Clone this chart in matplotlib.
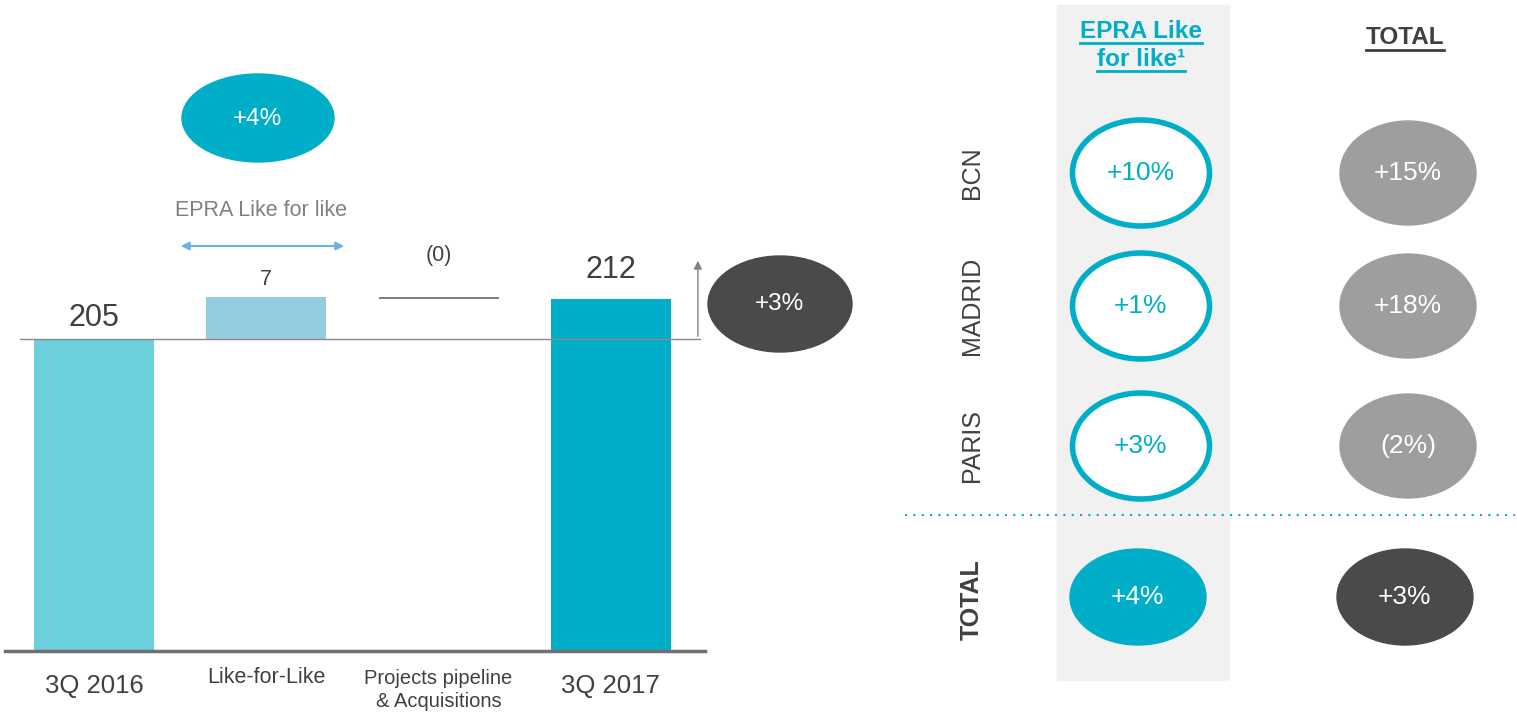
import matplotlib.pyplot as plt
from matplotlib.patches import Ellipse, Rectangle

plt.rcParams['font.family'] = ['Liberation Sans', 'DejaVu Sans']

# waterfall data
categories = ["3Q 2016", "Like-for-Like", "Projects pipeline\n& Acquisitions", "3Q 2017"]
start_value = 205.0
lfl_change = 7.4
projects_change = -0.4
end_value = 212.0
value_labels = ["205", "7", "(0)", "212"]
lfl_growth = "+4%"
total_growth = "+3%"

# table data
cities = ["BCN", "MADRID", "PARIS"]
epra_lfl = ["+10%", "+1%", "+3%"]
city_total = ["+15%", "+18%", "(2%)"]
total_row = ["+4%", "+3%"]

TEAL = '#00aec7'
LIGHT_TEAL = '#6bcfdc'
LFL_BLUE = '#94cde0'
DARK = '#4a4a4a'
GREY = '#9e9e9e'
TXT = '#404040'

W, H = 1517, 716
fig = plt.figure(figsize=(W / 100, H / 100), dpi=100)

# ---- waterfall (left) ----
px_per_unit = 40 / 7.0
ybot = start_value - (651 - 339) / px_per_unit
ax = fig.add_axes([0, (H - 651) / H, 720 / W, 651 / H])
step = 172.3
ax.set_xlim(-94 / step, (720 - 94) / step)
ax.set_ylim(ybot, ybot + 651 / px_per_unit)
for s in ['top', 'right', 'left']:
    ax.spines[s].set_visible(False)
ax.spines['bottom'].set_color('#707070')
ax.spines['bottom'].set_linewidth(2.5)
ax.spines['bottom'].set_bounds((5 - 94) / step, (705 - 94) / step)
ax.set_xticks([])
ax.set_yticks([])

bw = 120 / step
ax.bar(0, start_value, width=bw, color=LIGHT_TEAL, zorder=2)
ax.bar(1, lfl_change, bottom=start_value, width=bw, color=LFL_BLUE, zorder=2)
ax.bar(2, projects_change, bottom=start_value + lfl_change, width=bw, color='#7f7f7f', zorder=2)
ax.bar(3, end_value, width=bw, color=TEAL, zorder=2)

# reference line at starting level
ax.plot([(20 - 94) / step, (700 - 94) / step], [start_value, start_value],
        color='#8a8a8a', lw=1, zorder=3)
ax.annotate('', xy=(3.505, start_value + 81 / px_per_unit), xytext=(3.505, start_value),
            arrowprops=dict(arrowstyle='-|>', color='#808080', lw=1, mutation_scale=12))

tops = [start_value, start_value + lfl_change, start_value + lfl_change, end_value]
offs = [4, 5, 22, 10]
sizes = [22, 15.5, 15.5, 22]
for i, (lab, top) in enumerate(zip(value_labels, tops)):
    ax.annotate(lab, xy=(i, top), xytext=(0, offs[i]), textcoords='offset points',
                ha='center', va='bottom', fontsize=sizes[i], color=TXT)

cat_off = [25, 19, 28, 25]
cat_size = [18.5, 15.5, 14.5, 18.5]
for i, lab in enumerate(categories):
    ax.annotate(lab, xy=(i, ybot), xytext=(0, -cat_off[i]), textcoords='offset points',
                ha='center', va='center', fontsize=cat_size[i], color=TXT, linespacing=1.3)

# ---- overlay in pixel coords ----
ov = fig.add_axes([0, 0, 1, 1])
ov.set_xlim(0, W)
ov.set_ylim(H, 0)
ov.axis('off')
ov.patch.set_alpha(0)

ov.add_patch(Ellipse((258, 118), 152, 88, color=TEAL))
ov.text(258, 119, lfl_growth, ha='center', va='center', color='white', fontsize=17.5)
ov.text(261, 211, 'EPRA Like for like', ha='center', va='center', color='#808080', fontsize=15.5)
ov.annotate('', xy=(178, 246), xytext=(347, 246),
            arrowprops=dict(arrowstyle='<|-|>', color='#6cb4e0', lw=1.5, mutation_scale=12))
ov.add_patch(Ellipse((780, 304), 144, 96, color=DARK))
ov.text(780, 304, total_growth, ha='center', va='center', color='white', fontsize=17.5)

# ---- table (right) ----
ov.add_patch(Rectangle((1057, 5), 172, 675, color='#f1f1f1', zorder=0))
col_x = [1141, 1408]
row_y = [173, 306, 446]
for y, city, lfl, tot in zip(row_y, cities, epra_lfl, city_total):
    ov.text(972, y, city, rotation=90, ha='center', va='center', fontsize=18, color=TXT)
    ov.add_patch(Ellipse((col_x[0], y), 137, 106, facecolor='white', edgecolor=TEAL, lw=4))
    ov.text(col_x[0], y, lfl, ha='center', va='center', fontsize=19, color=TEAL)
    ov.add_patch(Ellipse((col_x[1], y), 136, 104, color=GREY))
    ov.text(col_x[1], y, tot, ha='center', va='center', fontsize=19, color='white')

ov.plot([905, 1515], [515, 515], color=TEAL, lw=1.5, ls=(0, (1, 3)))

ov.text(972, 600, 'TOTAL', rotation=90, ha='center', va='center', fontsize=18,
        color=TXT, fontweight='bold')
ov.add_patch(Ellipse((1138, 597), 136, 96, color=TEAL))
ov.text(1138, 597, total_row[0], ha='center', va='center', fontsize=19, color='white')
ov.add_patch(Ellipse((1405, 597), 136, 96, color=DARK))
ov.text(1405, 597, total_row[1], ha='center', va='center', fontsize=19, color='white')

# headers with underline
headers = [(1141, 31, 'EPRA Like', TEAL), (1141, 59, 'for like\u00b9', TEAL),
           (1405, 38, 'TOTAL', TXT)]
htexts = []
for x, y, s, c in headers:
    htexts.append(ov.text(x, y, s, ha='center', va='center', fontsize=17.5,
                          fontweight='bold', color=c))
fig.canvas.draw()
inv = ov.transData.inverted()
for t, (x, y, s, c) in zip(htexts, headers):
    bb = t.get_window_extent()
    (x0, y0), (x1, y1) = inv.transform([(bb.x0, bb.y0), (bb.x1, bb.y1)])
    ov.plot([x0, x1], [y + 12, y + 12], color=c, lw=2)

fig.savefig('out.png', dpi=100)
